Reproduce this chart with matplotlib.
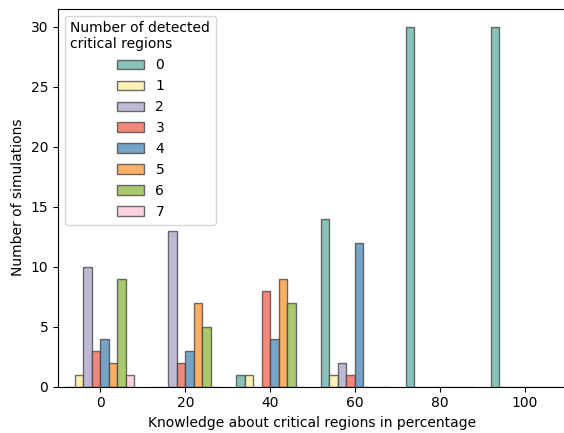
import numpy as np
import matplotlib
matplotlib.use("Agg")
import matplotlib.pyplot as plt

# percentage of critical regions known beforehand
knowledge = [0, 20, 40, 60, 80, 100]

# number of simulations per knowledge level, one list per number of detected regions
detected_0 = [0, 0, 1, 14, 30, 30]
detected_1 = [1, 0, 1, 1, 0, 0]
detected_2 = [10, 13, 0, 2, 0, 0]
detected_3 = [3, 2, 8, 1, 0, 0]
detected_4 = [4, 3, 4, 12, 0, 0]
detected_5 = [2, 7, 9, 0, 0, 0]
detected_6 = [9, 5, 7, 0, 0, 0]
detected_7 = [1, 0, 0, 0, 0, 0]

hue_labels = ["0", "1", "2", "3", "4", "5", "6", "7"]
colors = ["#88c2b9", "#fdf0b4", "#bdb9d4", "#f2887a",
          "#76a3c6", "#f8af66", "#aac86e", "#fcd2e1"]


def plot_detection():
    series = [detected_0, detected_1, detected_2, detected_3,
              detected_4, detected_5, detected_6, detected_7]
    x = np.array(knowledge, dtype=float)
    n = len(series)
    bin_width = 16.0
    bar_w = bin_width / n

    fig = plt.figure(figsize=(5.64, 4.33), dpi=100)
    ax = fig.add_axes([58 / 564, 1 - 386.7 / 433, 509 / 564, (386.7 - 8.7) / 433])

    for i, vals in enumerate(series):
        left = x - bin_width / 2 + i * bar_w
        ax.bar(left, vals, width=bar_w, align="edge", color=colors[i],
               edgecolor=(0.25, 0.25, 0.25, 0.75), linewidth=1.0,
               label=hue_labels[i])

    ax.set_xlim(-10, 110)
    ax.set_ylim(0, 31.5)
    ax.set_xticks(knowledge)
    ax.set_yticks([0, 5, 10, 15, 20, 25, 30])
    ax.set_xlabel("Knowledge about critical regions in percentage")
    ax.set_ylabel("Number of simulations")
    ax.legend(title="Number of detected\ncritical regions", loc="upper left")

    fig.savefig("out.png", dpi=100)


if __name__ == '__main__':
    plot_detection()
